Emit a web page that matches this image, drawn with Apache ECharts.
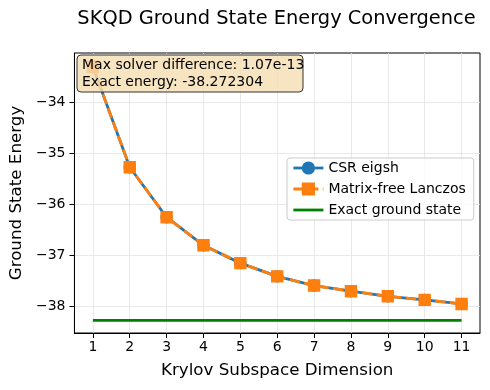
<!DOCTYPE html>
<html>
<head>
<meta charset="utf-8">
<script src="https://cdn.jsdelivr.net/npm/echarts@6/dist/echarts.min.js"></script>
<style>
html,body{margin:0;padding:0;background:#fff;}
#chart{width:490px;height:390px;}
</style>
</head>
<body>
<div id="chart"></div>
<script>
const krylovDims = [1, 2, 3, 4, 5, 6, 7, 8, 9, 10, 11];
const csrEigsh = [-33.30, -35.27, -36.25, -36.80, -37.15, -37.41, -37.59, -37.70, -37.80, -37.87, -37.95];
const lanczos = [-33.30, -35.27, -36.25, -36.80, -37.15, -37.41, -37.59, -37.70, -37.80, -37.87, -37.95];
const exactEnergy = -38.272304;
const yTicks = [-38, -37, -36, -35, -34];
const xTicks = [1, 2, 3, 4, 5, 6, 7, 8, 9, 10, 11];
const infoLines = ['Max solver difference: 1.07e-13', 'Exact energy: -38.272304'];
const titleText = 'SKQD Ground State Energy Convergence';

const FONT = 'DejaVu Sans';
const chart = echarts.init(document.getElementById('chart'), null, {renderer: 'canvas'});
const pairs = (xs, ys) => xs.map((x, i) => [x, ys[i]]);

chart.setOption({
  animation: false,
  backgroundColor: '#fff',
  textStyle: {fontFamily: FONT},
  grid: {left: 73, right: 10, top: 53, bottom: 57, show: true, borderColor: '#000', borderWidth: 1, backgroundColor: 'transparent'},
  legend: {
    orient: 'vertical', left: 287, top: 158,
    itemWidth: 30, itemHeight: 14, itemGap: 7,
    padding: [3, 8, 3, 5],
    backgroundColor: 'rgba(255,255,255,0.8)', borderColor: '#cccccc', borderWidth: 1, borderRadius: 3,
    textStyle: {fontFamily: FONT, fontSize: 14, color: '#000'},
    lineStyle: {width: 2.8},
    data: [
      'CSR eigsh',
      'Matrix-free Lanczos',
      {name: 'Exact ground state', itemStyle: {opacity: 0}}
    ]
  },
  xAxis: {
    type: 'value', min: 0.5, max: 11.5,
    name: 'Krylov Subspace Dimension', nameLocation: 'middle', nameGap: 29,
    nameTextStyle: {fontFamily: FONT, fontSize: 16.7, color: '#000'},
    axisLine: {show: true, lineStyle: {color: '#000', width: 1}},
    axisTick: {show: true, length: 5, lineStyle: {color: '#000'}, customValues: xTicks},
    axisLabel: {fontFamily: FONT, fontSize: 14, color: '#000', margin: 7, customValues: xTicks},
    splitLine: {show: true, lineStyle: {color: '#e3e3e3', width: 0.8}}
  },
  yAxis: {
    type: 'value', min: -38.52, max: -33.03,
    name: 'Ground State Energy', nameLocation: 'middle', nameGap: 48,
    nameTextStyle: {fontFamily: FONT, fontSize: 16.7, color: '#000'},
    axisLine: {show: true, lineStyle: {color: '#000', width: 1}},
    axisTick: {show: true, length: 5, lineStyle: {color: '#000'}, customValues: yTicks},
    axisLabel: {fontFamily: FONT, fontSize: 14, color: '#000', margin: 9, customValues: yTicks,
      formatter: v => String(Math.round(v)).replace('-', '\u2212')},
    splitLine: {show: true, lineStyle: {color: '#e3e3e3', width: 0.8}}
  },
  series: [
    {
      name: 'CSR eigsh', type: 'line', data: pairs(krylovDims, csrEigsh),
      symbol: 'circle', symbolSize: 11, z: 2,
      lineStyle: {color: '#1f77b4', width: 2.8},
      itemStyle: {color: '#1f77b4', borderColor: '#1f77b4', borderWidth: 1.4}
    },
    {
      name: 'Matrix-free Lanczos', type: 'line', data: pairs(krylovDims, lanczos),
      symbol: 'rect', symbolSize: 11, z: 3,
      lineStyle: {color: '#ff7f0e', width: 2.8, type: [10.3, 4.4]},
      itemStyle: {color: '#ff7f0e', borderColor: '#ff7f0e', borderWidth: 1.4}
    },
    {
      name: 'Exact ground state', type: 'line',
      data: [[krylovDims[0], exactEnergy], [krylovDims[krylovDims.length - 1], exactEnergy]],
      symbol: 'none', showSymbol: false, z: 1,
      lineStyle: {color: '#008000', width: 2.8},
      itemStyle: {color: '#008000'}
    }
  ],
  graphic: [
    {type: 'text', x: 276.5, y: 19, z: 100,
     style: {text: titleText, fontFamily: FONT, fontSize: 19.4, fill: '#000', align: 'center', verticalAlign: 'middle'}},
    {type: 'rect', x: 77, y: 55, z: 100, shape: {x: 0, y: 0, width: 226, height: 37, r: 4},
     style: {fill: 'rgba(245,222,179,0.8)', stroke: '#333', lineWidth: 1}},
    {type: 'text', x: 82, y: 57, z: 101,
     style: {text: infoLines.join('\n'), fontFamily: FONT, fontSize: 14, lineHeight: 17, fill: '#000'}}
  ]
});
</script>
</body>
</html>
